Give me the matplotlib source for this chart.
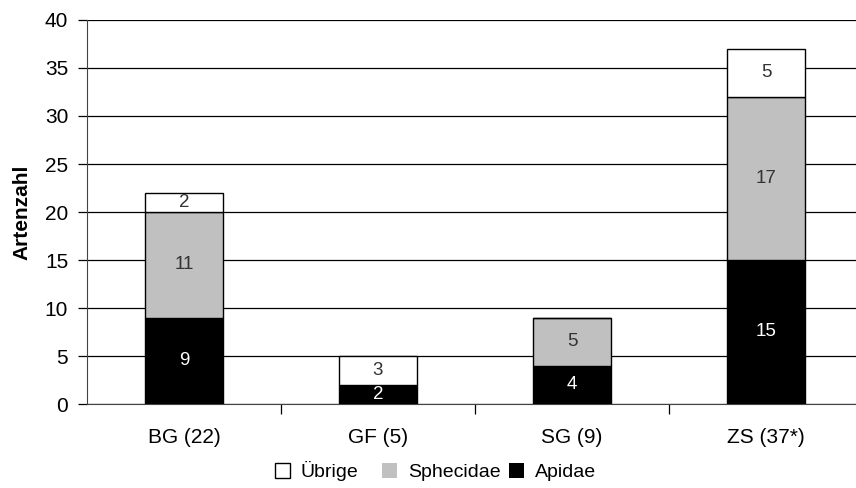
import matplotlib.pyplot as plt
import numpy as np

plt.rcParams['font.family'] = ['Liberation Sans', 'DejaVu Sans']

sites = ["BG (22)", "GF (5)", "SG (9)", "ZS (37*)"]
apidae = [9, 2, 4, 15]
sphecidae = [11, 0, 5, 17]
uebrige = [2, 3, 0, 5]

fig = plt.figure(figsize=(8.56, 4.88), dpi=100)
ax = fig.add_axes([87 / 856, 1 - 404 / 488, 776 / 856, 384 / 488])

x = np.arange(len(sites))
w = 0.4
layers = [
    (apidae, "#000000", "white", "Apidae"),
    (sphecidae, "#c0c0c0", "#333333", "Sphecidae"),
    (uebrige, "#ffffff", "#333333", "Übrige"),
]
bottom = np.zeros(len(sites))
handles = {}
for vals, col, tcol, name in layers:
    vals = np.array(vals)
    bars = ax.bar(x, vals, w, bottom=bottom, color=col, edgecolor="black",
                  linewidth=1, zorder=3)
    handles[name] = bars
    for xi, b, v in zip(x, bottom, vals):
        if v > 0:
            ax.text(xi, b + v / 2, str(v), ha="center", va="center",
                    color=tcol, fontsize=13.5, zorder=4)
    bottom = bottom + vals

ax.set_ylim(0, 40)
ax.set_xlim(-0.5, 3.5)
ax.set_yticks(range(0, 41, 5))
ax.yaxis.grid(True, color="black", linewidth=0.9, zorder=0)
ax.set_axisbelow(True)
ax.set_xticks(x)
ax.set_xticklabels(sites, fontsize=15)
ax.tick_params(axis="x", length=0, pad=17)
ax.set_xticks(np.arange(0.5, 3, 1), minor=True)
ax.tick_params(axis="x", which="minor", length=7, width=0.9, color="black")
ax.tick_params(axis="y", labelsize=15, length=6.5, width=0.9, pad=7)
for s in ["top", "right"]:
    ax.spines[s].set_visible(False)
ax.spines["left"].set_color("#444444")
ax.spines["bottom"].set_color("#444444")
ax.set_ylabel("Artenzahl", fontsize=15, fontweight="bold", labelpad=10)

# legend entries sit in fixed slots along the bottom
slots = [("Übrige", 275, 471), ("Sphecidae", 382, 472), ("Apidae", 509, 472)]
for name, px, py in slots:
    leg = fig.legend([handles[name]], [name], loc="center left",
                     bbox_to_anchor=(px / 856, 1 - py / 488),
                     frameon=False, fontsize=14, handlelength=0.78,
                     handleheight=0.78, handletextpad=0.55,
                     borderpad=0, borderaxespad=0)
    if name != "Übrige":
        leg.legend_handles[0].set_edgecolor("none")

fig.savefig("out.png", dpi=100)
